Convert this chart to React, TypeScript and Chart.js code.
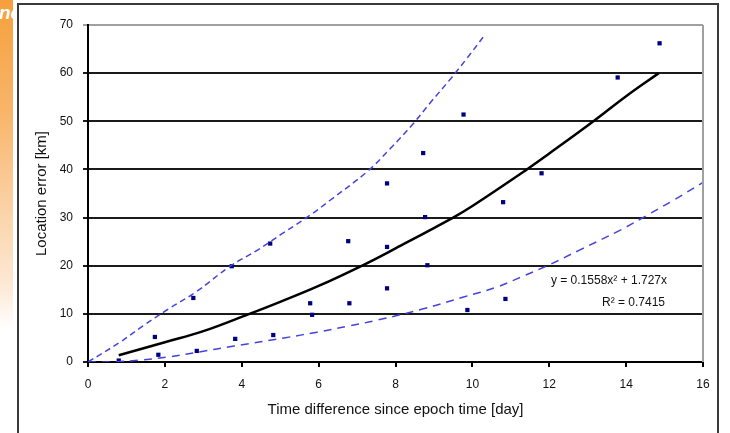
import React, { useEffect, useRef } from "react";
import { Chart, registerables } from "chart.js";

Chart.register(...registerables);

// Observed data (time difference in days, location error in km)
const obsDays = [0.8, 1.74, 1.83, 2.74, 2.83, 3.74, 3.83, 4.74, 4.82, 5.78, 5.83, 6.77, 6.8, 7.78, 7.78, 7.78, 8.72, 8.77, 8.83, 9.77, 9.87, 10.8, 10.86, 11.8, 13.78, 14.87];
const obsErrorKm = [0.3, 5.2, 1.5, 13.3, 2.3, 19.9, 4.8, 24.6, 5.6, 12.2, 9.8, 25.1, 12.2, 37.1, 23.9, 15.3, 43.4, 30.1, 20.1, 51.4, 10.8, 33.2, 13.1, 39.2, 59.1, 66.2];

// Polynomial trend line
const trendDays = [0.8, 2, 3, 4.2, 5, 6, 7.2, 8, 9.5, 10, 11.4, 12, 13.15, 14, 14.85];
const trendKm = [1.4, 4.1, 6.4, 10, 12.5, 15.8, 20.3, 23.6, 30, 32.4, 39.9, 43.3, 50, 55.2, 60];

// Upper bound (dashed)
const upperDays = [0, 0.83, 1.43, 2.05, 2.8, 3.7, 4.4, 5.08, 5.78, 6.3, 7.27, 7.86, 8.46, 8.9, 9.43, 9.87, 10.29];
const upperKm = [0, 4.1, 7.5, 10.8, 14.5, 19.9, 23.2, 26.8, 30.5, 33.6, 39.6, 44.3, 49.5, 53.8, 58.8, 63.2, 67.6];

// Lower bound (dashed)
const lowerDays = [0, 0.57, 1.35, 2.05, 2.9, 3.8, 5.1, 5.96, 6.8, 7.53, 8.7, 9.77, 10.65, 11.25, 12.03, 12.8, 13.85, 14.55, 15.23, 16];
const lowerKm = [0, 0, 0.4, 1.0, 2.1, 3.3, 5.0, 6.2, 7.5, 8.7, 11, 13.5, 15.6, 17.6, 20.3, 23.3, 27.4, 30.5, 33.6, 37.3];

const xTitle = "Time difference since epoch time [day]";
const yTitle = "Location error [km]";
const eqLine1 = "y = 0.1558x² + 1.727x";
const eqLine2 = "R² = 0.7415";

const toPts = (xs: number[], ys: number[]) => xs.map((x, i) => ({ x, y: ys[i] }));

const FONT = "'Liberation Sans', Arial, sans-serif";

const overlayPlugin = {
  id: "overlay",
  afterDraw(chart: any) {
    const { ctx, chartArea } = chart;
    ctx.save();
    // right border of plot area (grey)
    ctx.strokeStyle = "#a0a0a0";
    ctx.lineWidth = 2;
    ctx.beginPath();
    ctx.moveTo(chartArea.right, chartArea.top);
    ctx.lineTo(chartArea.right, chartArea.bottom);
    ctx.stroke();
    // trend equation
    ctx.fillStyle = "#111";
    ctx.font = `12px ${FONT}`;
    ctx.textAlign = "right";
    ctx.textBaseline = "middle";
    ctx.fillText(eqLine1, chartArea.right - 36, chartArea.top + 256);
    ctx.fillText(eqLine2, chartArea.right - 38, chartArea.top + 278);
    ctx.restore();
  },
};

export default function App() {
  const ref = useRef<HTMLCanvasElement>(null);

  useEffect(() => {
    if (!ref.current) return;
    const chart = new Chart(ref.current, {
      type: "scatter",
      data: {
        datasets: [
          {
            label: "upper",
            data: toPts(upperDays, upperKm),
            showLine: true,
            borderColor: "#4444dd",
            borderWidth: 1.5,
            borderDash: [6, 4],
            pointRadius: 0,
            tension: 0.4,
          },
          {
            label: "lower",
            data: toPts(lowerDays, lowerKm),
            showLine: true,
            borderColor: "#4444dd",
            borderWidth: 1.5,
            borderDash: [8, 6],
            pointRadius: 0,
            tension: 0.4,
          },
          {
            label: "trend",
            data: toPts(trendDays, trendKm),
            showLine: true,
            borderColor: "#000",
            borderWidth: 2.5,
            pointRadius: 0,
            tension: 0.4,
          },
          {
            label: "observed",
            data: toPts(obsDays, obsErrorKm),
            showLine: false,
            pointStyle: "rect",
            pointRadius: 3,
            backgroundColor: "#000080",
            borderColor: "#000080",
            borderWidth: 0,
          },
        ],
      },
      options: {
        animation: false,
        responsive: false,
        events: [],
        layout: { padding: { left: 20, top: 25, right: 27, bottom: 10 } },
        plugins: { legend: { display: false }, tooltip: { enabled: false } },
        scales: {
          x: {
            type: "linear",
            min: 0,
            max: 16,
            ticks: { stepSize: 2, color: "#111", font: { size: 12, family: FONT }, padding: 10, maxRotation: 0 },
            grid: { drawOnChartArea: false, drawTicks: true, tickLength: 5, color: "#000", lineWidth: 2 },
            border: { display: true, color: "#000", width: 2 },
            title: { display: true, text: xTitle, color: "#111", font: { size: 15, family: FONT }, padding: { top: 0, bottom: 4 } },
            afterFit: (s: any) => { s.height = 61; },
          },
          y: {
            type: "linear",
            min: 0,
            max: 70,
            ticks: { stepSize: 10, color: "#111", font: { size: 12, family: FONT }, padding: 10 },
            grid: {
              drawTicks: true,
              tickLength: 5,
              lineWidth: 2,
              color: (c: any) => (c.tick && c.tick.value === 70 ? "#a0a0a0" : "#1a1a1a"),
            },
            border: { display: true, color: "#000", width: 2 },
            title: { display: true, text: yTitle, color: "#111", font: { size: 15, family: FONT }, padding: { top: 13, bottom: 0 } },
            afterFit: (s: any) => { s.width = 68; },
          },
        },
      },
      plugins: [overlayPlugin],
    });
    return () => chart.destroy();
  }, []);

  return (
    <div style={{ position: "fixed", left: 0, top: 0, width: 730, height: 433, background: "#fff", overflow: "hidden" }}>
      <div
        style={{
          position: "absolute",
          left: 0,
          top: 0,
          width: 13,
          height: 433,
          overflow: "hidden",
          background: "linear-gradient(to bottom, #f6a03c 0%, #f8b468 25%, #fbd2a6 48%, #fde9d6 66%, #ffffff 76%)",
        }}
      >
        <span
          style={{
            position: "absolute",
            left: -1,
            top: 2,
            color: "#fff",
            fontFamily: FONT,
            fontWeight: "bold",
            fontStyle: "italic",
            fontSize: 19,
            whiteSpace: "nowrap",
          }}
        >
          nc
        </span>
      </div>
      <div
        style={{
          position: "absolute",
          left: 17,
          top: 3,
          width: 702,
          height: 450,
          border: "2px solid #3a3a3a",
          boxSizing: "border-box",
        }}
      />
      <canvas ref={ref} width={730} height={433} style={{ position: "absolute", left: 0, top: 0, width: 730, height: 433 }} />
    </div>
  );
}
